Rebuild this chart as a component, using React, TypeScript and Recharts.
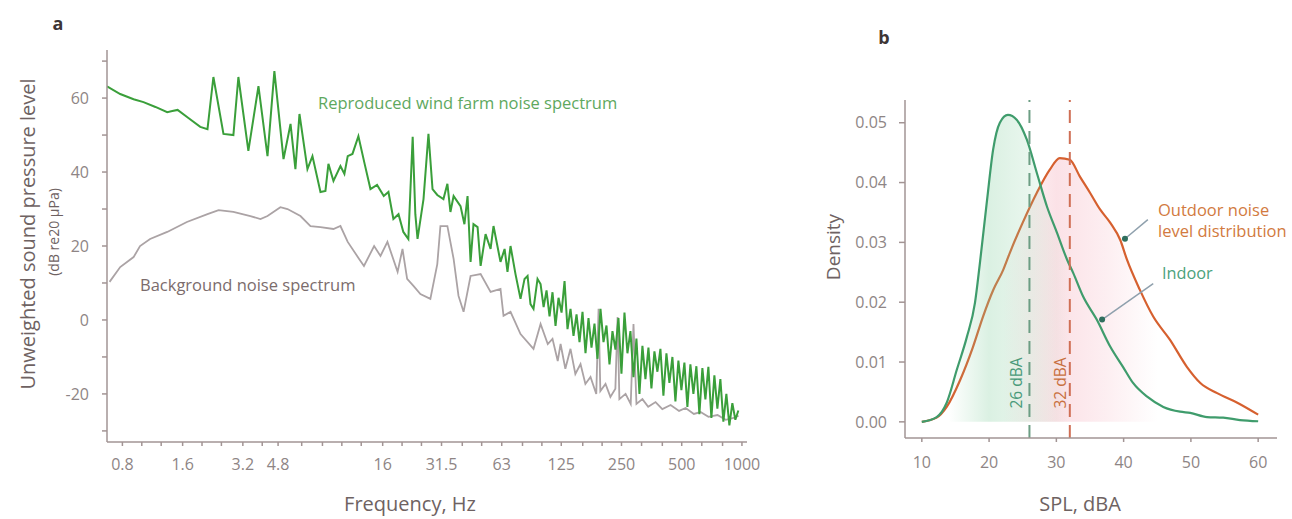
import { LineChart, ComposedChart, Line, Area, XAxis, YAxis, ReferenceLine, ReferenceDot } from 'recharts';

// panel a: spectra (frequency in Hz, level in dB re 20 µPa)
const windFreq = [0.67, 0.78, 0.91, 1.02, 1.17, 1.34, 1.42, 1.51, 1.71, 1.96, 2.13, 2.28, 2.56, 2.87, 3.04, 3.41, 3.83, 4.25, 4.6, 5.11, 5.54, 5.86, 6.14, 6.73, 7.13, 7.82, 8.28, 8.57, 9.08, 9.84, 10.3, 10.7, 11.3, 12.1, 13.0, 13.9, 15.0, 16.2, 17.1, 18.1, 19.2, 20.3, 21.5, 22.6, 23.3, 23.9, 25.6, 27.1, 28.4, 30.0, 32.2, 33.7, 34.9, 36.2, 39.2, 41.0, 42.5, 44.0, 45.5, 47.7, 49.4, 52.3, 55.4, 57.3, 62.1, 65.1, 67.3, 69.7, 73.8, 78.2, 81.9, 84.8, 87.7, 90.8, 95.1, 98.5,
  102, 105.5, 109.2, 113, 117, 121.1, 125.4, 129.8, 134.3, 139, 143.9, 149, 154.2, 159.6, 165.2, 171, 177, 183.2, 189.6, 196.3, 203.2, 210.3, 217.7, 225.3, 233.2, 241.4, 249.9, 258.7, 267.7, 277.1, 286.9, 296.9, 307.4, 318.1, 329.3, 340.9, 352.8, 365.2, 378, 391.3, 405, 419.3, 434, 449.2, 465, 481.3, 498.2, 515.7, 533.8, 552.5, 571.9, 592, 612.8, 634.3, 656.6, 679.6, 703.5, 728.2, 753.7, 780.2, 807.6, 835.9, 865.3, 895.6, 927.1, 959.6];
const windLevel = [63.2, 61.1, 59.7, 58.9, 57.6, 56.2, 56.5, 56.8, 54.6, 52.2, 51.6, 65.7, 50.3, 50.0, 65.7, 45.7, 63.2, 44.3, 67.3, 43.5, 53.0, 40.8, 55.7, 40.8, 44.3, 34.6, 34.9, 42.2, 37.6, 41.6, 39.5, 44.3, 44.9, 49.7, 42.2, 35.4, 36.5, 33.5, 34.6, 27.3, 28.6, 23.8, 21.9, 49.5, 28.6, 21.9, 32.7, 50.3, 35.4, 33.8, 32.7, 36.8, 29.2, 33.5, 30.8, 25.9, 33.5, 15.7, 25.9, 25.1, 14.6, 23.2, 19.2, 25.4, 15.7, 19.2, 13.0, 20.0, 12.4, 5.7, 11.1, 11.9, 4.3, 3.0, 11.1, 9.7,
  3.5, 8.0, 1.0, 7.5, -1.6, 6.0, 2.0, 10.5, -2.5, 3.0, -4.3, 1.5, -6.0, 2.2, -9.0, 0.5, -7.5, -1.0, -10.5, 3.0, -6.0, -1.5, -12.0, -3.0, -8.0, 0.5, -14.5, 2.0, -9.0, -3.0, -15.5, -5.0, -20.0, -7.0, -16.0, -7.5, -18.5, -8.5, -14.0, -7.8, -20.5, -9.0, -17.0, -10.0, -22.0, -11.0, -19.0, -11.5, -23.5, -12.0, -20.0, -12.5, -25.5, -13.0, -21.5, -12.7, -26.5, -15.0, -24.0, -16.0, -27.5, -20.0, -28.5, -22.5, -27.0, -24.5];

const bgFreq = [0.69, 0.78, 0.91, 0.98, 1.10, 1.34, 1.68, 2.13, 2.42, 2.87, 3.49, 3.92, 4.25, 4.93, 5.35, 6.21, 6.97, 7.82, 9.08, 9.84, 10.7, 12.2, 12.9, 14.5, 15.6, 16.9, 19.0, 20.1, 21.2, 22.8, 24.7, 27.7, 30.0, 31.1, 33.7, 36.2, 38.3, 40.6, 44.0, 49.4, 55.4, 62.1, 64.3, 69.7, 78.2, 90.8, 98.5, 107,
  113, 120, 124, 131, 139, 147, 156, 165, 175, 187, 192, 196, 208, 220, 233, 239, 244, 262, 278, 287, 297, 318, 340, 370, 400, 440, 485, 523, 575, 621, 680, 755, 829, 909, 962];
const bgLevel = [10.3, 14.3, 17.0, 20.0, 21.9, 23.8, 26.5, 28.6, 29.7, 29.2, 28.1, 27.3, 28.1, 30.5, 30.0, 28.1, 25.4, 25.1, 24.6, 25.4, 21.1, 16.5, 14.6, 20.0, 17.3, 21.1, 13.0, 19.2, 11.1, 9.2, 7.0, 5.7, 15.1, 25.4, 25.4, 16.5, 6.5, 2.2, 11.9, 12.4, 7.6, 8.4, 1.1, 2.2, -3.8, -7.8, -1.1, -6.5,
  -5.1, -11.1, -6.5, -13.2, -7.8, -14.6, -11.9, -17.3, -15.4, -20.0, 3.0, -19.2, -17.3, -20.8, -18.6, 0.8, -21.4, -20.0, -22.7, -1.1, -22.7, -21.4, -23.5, -22.2, -24.1, -23.0, -24.6, -23.8, -25.4, -24.9, -26.2, -25.7, -27.0, -26.5, -25.9];

const freqLabels = [0.8, 1.6, 3.2, 4.8, 16, 31.5, 63, 125, 250, 500, 1000];
const freqMinor = [1, 1.25, 2, 2.5, 4, 6.3, 8, 10, 12.5, 20, 25, 40, 50, 80, 100, 160, 200, 315, 400, 630, 800];
const levelLabels = [60, 40, 20, 0, -20];
const levelMinor = [70, 50, 30, 10, -10, -30];

// panel b: SPL distributions
const indoorSpl = [10, 12.2, 13.7, 15.2, 16.7, 17.9, 18.6, 19.7, 20.6, 21.6, 22.8, 24.1, 25.6, 27.1, 28.6, 30.1, 31.6, 32.5, 34.0, 36.0, 38.0, 39.9, 41.4, 43.5, 45.9, 48.4, 49.9, 52.4, 54.8, 57.3, 60];
const indoorDensity = [0.0, 0.0008, 0.0032, 0.0087, 0.0142, 0.0199, 0.0262, 0.0371, 0.0455, 0.05, 0.0513, 0.0505, 0.0472, 0.0416, 0.036, 0.0316, 0.0271, 0.0249, 0.0209, 0.0171, 0.0126, 0.0092, 0.0065, 0.0042, 0.0025, 0.0017, 0.0015, 0.0008, 0.0007, 0.0003, 0.0001];
const outdoorSpl = [10, 12.2, 13.7, 15.7, 17.6, 19.1, 20.6, 22.1, 23.1, 25.0, 27.1, 29.0, 30.5, 32.0, 33.5, 35.0, 36.5, 38.0, 39.5, 40.5, 42.4, 44.4, 46.9, 49.4, 51.4, 53.9, 56.9, 60];
const outdoorDensity = [0.0, 0.0007, 0.0025, 0.007, 0.0125, 0.0176, 0.022, 0.0254, 0.0283, 0.0333, 0.0383, 0.0421, 0.0441, 0.0438, 0.041, 0.0383, 0.0355, 0.0333, 0.0304, 0.0271, 0.0221, 0.0176, 0.0137, 0.0092, 0.0065, 0.0048, 0.0032, 0.0012];

const splTicks = [10, 20, 30, 40, 50, 60];
const densityTicks = [0, 0.01, 0.02, 0.03, 0.04, 0.05];
const indoorMedian = 26;
const outdoorMedian = 32;

const font = '"Open Sans", sans-serif';
const axisColor = '#a29494';
const labelColor = '#6e6262';
const tickStyle = { fill: '#8e8585', fontSize: 16, fontFamily: font };

type TxtProps = { x: number; y: number; size: number; color: string; children: string; rotate?: boolean; anchor?: 'start' | 'middle'; bold?: boolean };

const Txt = ({ x, y, size, color, children, rotate, anchor = 'middle', bold }: TxtProps) => (
  <div
    style={{
      position: 'absolute',
      left: x,
      top: y,
      fontSize: size,
      lineHeight: 1,
      color,
      fontFamily: font,
      fontWeight: bold ? 700 : 400,
      whiteSpace: 'nowrap',
      transform: `translate(${anchor === 'middle' ? '-50%' : '0'}, -50%)${rotate ? ' rotate(-90deg)' : ''}`,
    }}
  >
    {children}
  </div>
);

const App = () => {
  const windData = windFreq.map((f, i) => ({ f, level: windLevel[i] }));
  const bgData = bgFreq.map((f, i) => ({ f, level: bgLevel[i] }));
  const indoorData = indoorSpl.map((s, i) => ({ s, d: indoorDensity[i] }));
  const outdoorData = outdoorSpl.map((s, i) => ({ s, d: outdoorDensity[i] }));
  const freqTicks = [...freqLabels, ...freqMinor].sort((a, b) => a - b);
  const levelTicks = [...levelLabels, ...levelMinor].sort((a, b) => a - b);

  return (
    <div style={{ position: 'absolute', left: 0, top: 0, width: 1292, height: 519, background: '#fff', overflow: 'hidden' }}>
      <div style={{ position: 'absolute', left: 0, top: 0 }}>
        <LineChart width={780} height={519} margin={{ top: 50, right: 33, bottom: 47, left: 47 }}>
          <XAxis
            type="number"
            dataKey="f"
            scale="log"
            domain={[0.67, 1060]}
            allowDataOverflow
            ticks={freqTicks}
            interval={0}
            tickFormatter={(v: number) => (freqLabels.includes(v) ? String(v) : '')}
            stroke={axisColor}
            strokeWidth={1.5}
            tick={tickStyle}
            tickSize={4}
            tickMargin={13}
            height={30}
          />
          <YAxis
            type="number"
            domain={[-33, 73]}
            allowDataOverflow
            ticks={levelTicks}
            interval={0}
            tickFormatter={(v: number) => (levelLabels.includes(v) ? String(v) : '')}
            stroke={axisColor}
            strokeWidth={1.5}
            tick={tickStyle}
            tickSize={5}
            tickMargin={13}
            width={60}
          />
          <Line data={bgData} dataKey="level" type="linear" stroke="#aba3a5" strokeWidth={1.8} dot={false} isAnimationActive={false} />
          <Line data={windData} dataKey="level" type="linear" stroke="#3a9f3a" strokeWidth={2} dot={false} isAnimationActive={false} />
        </LineChart>
      </div>

      <div style={{ position: 'absolute', left: 790, top: 0 }}>
        <ComposedChart width={502} height={519} margin={{ top: 100, right: 15, bottom: 51, left: 55 }}>
          <defs>
            <linearGradient id="greenFill" x1="0" y1="0" x2="1" y2="0">
              <stop offset="0.08" stopColor="#86cfa0" stopOpacity={0} />
              <stop offset="0.2" stopColor="#86cfa0" stopOpacity={0.3} />
              <stop offset="0.32" stopColor="#86cfa0" stopOpacity={0.18} />
              <stop offset="0.44" stopColor="#86cfa0" stopOpacity={0} />
            </linearGradient>
            <linearGradient id="pinkFill" x1="0" y1="0" x2="1" y2="0">
              <stop offset="0.24" stopColor="#f3a3b3" stopOpacity={0} />
              <stop offset="0.4" stopColor="#f3a3b3" stopOpacity={0.32} />
              <stop offset="0.55" stopColor="#f3a3b3" stopOpacity={0.18} />
              <stop offset="0.7" stopColor="#f3a3b3" stopOpacity={0} />
            </linearGradient>
          </defs>
          <XAxis
            type="number"
            dataKey="s"
            domain={[7.5, 62.8]}
            allowDataOverflow
            ticks={splTicks}
            interval={0}
            stroke={axisColor}
            strokeWidth={1.5}
            tick={tickStyle}
            tickSize={4}
            tickMargin={15}
            height={30}
          />
          <YAxis
            type="number"
            domain={[-0.0027, 0.0538]}
            allowDataOverflow
            ticks={densityTicks}
            interval={0}
            tickFormatter={(v: number) => v.toFixed(2)}
            stroke={axisColor}
            strokeWidth={1.5}
            tick={tickStyle}
            tickSize={6}
            tickMargin={12}
            width={60}
          />
          <Area data={outdoorData} dataKey="d" type="monotone" baseValue={0} stroke="#d6602f" strokeWidth={2.2} fill="url(#pinkFill)" fillOpacity={1} dot={false} isAnimationActive={false} />
          <Area data={indoorData} dataKey="d" type="monotone" baseValue={0} stroke="#3f9c6c" strokeWidth={2.2} fill="url(#greenFill)" fillOpacity={1} dot={false} isAnimationActive={false} />
          <ReferenceLine x={indoorMedian} stroke="#6c9e84" strokeWidth={2} strokeDasharray="13 8" />
          <ReferenceLine x={outdoorMedian} stroke="#cf6f55" strokeWidth={2} strokeDasharray="13 8" />
          <ReferenceLine segment={[{ x: 43.6, y: 0.0338 }, { x: 40.2, y: 0.0306 }]} stroke="#8fa0ad" strokeWidth={1.5} />
          <ReferenceLine segment={[{ x: 44.4, y: 0.0231 }, { x: 36.8, y: 0.0171 }]} stroke="#8fa0ad" strokeWidth={1.5} />
          <ReferenceDot x={40.2} y={0.0306} r={3} fill="#2f6f5e" stroke="none" />
          <ReferenceDot x={36.8} y={0.0171} r={3} fill="#2f6f5e" stroke="none" />
        </ComposedChart>
      </div>

      <Txt x={58} y={23} size={18} color="#3d3535" bold>a</Txt>
      <Txt x={884} y={37} size={18} color="#3d3535" bold>b</Txt>
      <Txt x={318} y={103} size={16.5} color="#5ea85e" anchor="start">Reproduced wind farm noise spectrum</Txt>
      <Txt x={140} y={285} size={16.5} color="#7b6c6c" anchor="start">Background noise spectrum</Txt>
      <Txt x={28} y={234} size={20} color={labelColor} rotate>Unweighted sound pressure level</Txt>
      <Txt x={54} y={232} size={14} color={labelColor} rotate>(dB re20 µPa)</Txt>
      <Txt x={410} y={504} size={20} color={labelColor}>Frequency, Hz</Txt>
      <Txt x={1080} y={504} size={20} color={labelColor}>SPL, dBA</Txt>
      <Txt x={833} y={247} size={19} color={labelColor} rotate>Density</Txt>
      <Txt x={1158} y={210} size={16.5} color="#d27a40" anchor="start">Outdoor noise</Txt>
      <Txt x={1158} y={231} size={16.5} color="#d27a40" anchor="start">level distribution</Txt>
      <Txt x={1162} y={273} size={16.3} color="#4ba27c" anchor="start">Indoor</Txt>
      <Txt x={1017} y={383} size={15.5} color="#4a9a7a" rotate>26 dBA</Txt>
      <Txt x={1061} y={383} size={15.5} color="#c87040" rotate>32 dBA</Txt>
    </div>
  );
};

export default App;
